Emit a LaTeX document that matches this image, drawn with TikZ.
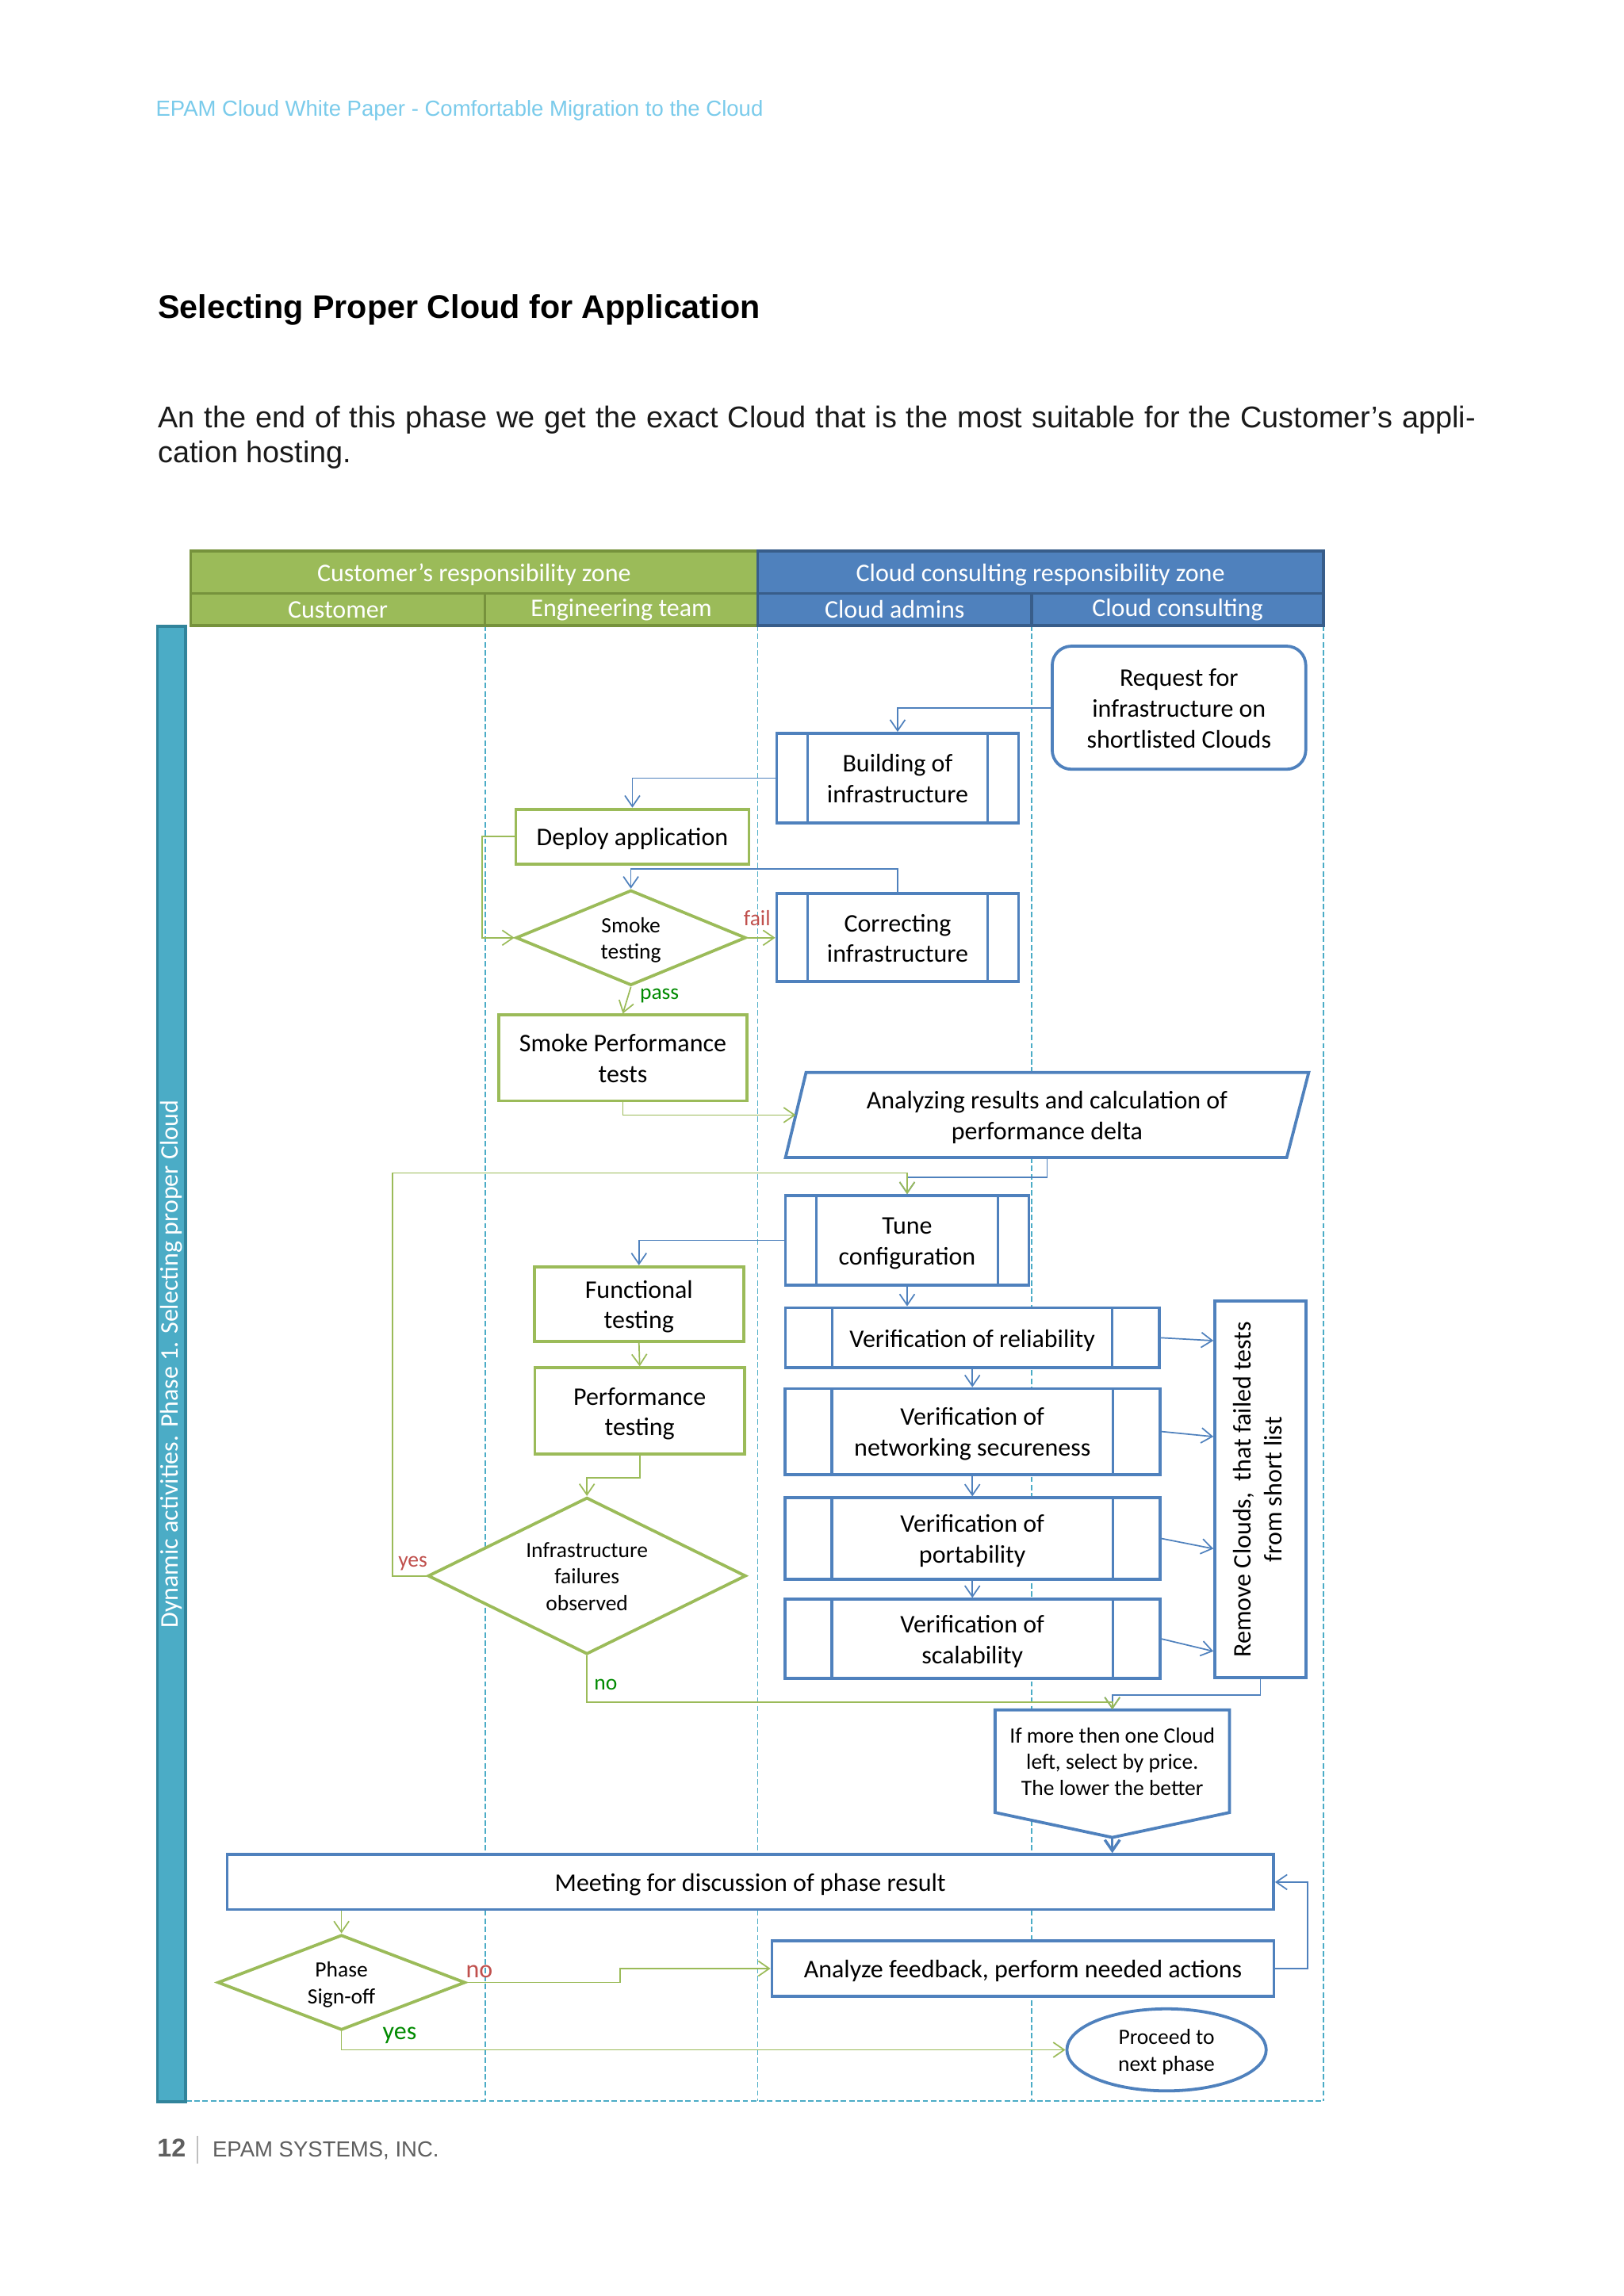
\documentclass[tikz,border=0pt]{standalone}
\usepackage{fontspec}
\setmainfont{Liberation Sans}
\newfontfamily\cfont{Carlito}
\usepackage{graphicx}
\usetikzlibrary{arrows.meta,shapes.geometric,calc}
\def\U{0.5372pt}
\newcommand{\ts}{\rule{0pt}{0.98em}}
\newcommand{\te}{\rule[-0.25em]{0pt}{0pt}}
\definecolor{cblue}{HTML}{4F81BD}
\definecolor{cblueD}{HTML}{385D8A}
\definecolor{cgreen}{HTML}{9BBB59}
\definecolor{cgreenD}{HTML}{76923C}
\definecolor{cteal}{HTML}{4BACC6}
\definecolor{ctealD}{HTML}{31849B}
\definecolor{cred}{HTML}{C0504D}
\definecolor{cgtxt}{HTML}{008A00}
\definecolor{chead}{HTML}{7ACBEB}
\definecolor{cfoot}{HTML}{5F5F5F}
\definecolor{csep}{HTML}{BFBFBF}
\definecolor{ctext}{HTML}{1A1A1A}
\tikzset{
  lbl/.style={font=\cfont\fontsize{9.3}{11.3}\selectfont, align=center, inner sep=0pt, text=black},
  sml/.style={font=\cfont\fontsize{8}{9.7}\selectfont, align=center, inner sep=0pt, text=black},
  bbox/.style={draw=cblue, line width=1.1pt, fill=white, lbl},
  gbox/.style={draw=cgreen, line width=1.1pt, fill=white, lbl},
  procbox/.style={bbox, path picture={\draw[cblue, line width=1pt]
      ([xshift=#1*\U]path picture bounding box.north west) -- ([xshift=#1*\U]path picture bounding box.south west)
      ([xshift=-#1*\U]path picture bounding box.north east) -- ([xshift=-#1*\U]path picture bounding box.south east);}},
  gdiam/.style={shape=diamond, draw=cgreen, line width=1.1pt, fill=white, sml},
  zoneg/.style={fill=cgreen, draw=cgreenD, line width=1pt, lbl, text=white},
  zoneb/.style={fill=cblue, draw=cblueD, line width=1pt, lbl, text=white},
  bl/.style={draw=cblue, line width=0.5pt, -{Straight Barb[length=4pt,width=5.5pt]}},
  gl/.style={draw=cgreen, line width=0.5pt, -{Straight Barb[length=4pt,width=5.5pt]}},
  lane/.style={draw=cteal, line width=0.5pt, dash pattern=on 2pt off 1pt},
  outl/.style={draw=cblue, line width=1.1pt, fill=white},
}
\begin{document}
\begin{tikzpicture}[x=0.5372pt, y=-0.5372pt]
\useasboundingbox (0,0) rectangle (1108,1567);
\fill[white] (0,0) rectangle (1108,1567);

% page texts
\node[anchor=base west, inner sep=0pt, font=\fontsize{8}{9.6}\selectfont, text=chead] (hdr) at (106,79.4)
  {EPAM Cloud White Paper - Comfortable Migration to the Cloud};
\node[anchor=base west, inner sep=0pt, font=\bfseries\fontsize{12}{14}\selectfont, text=black] (title) at (107.5,217.3)
  {Selecting Proper Cloud for Application};
\node[anchor=base west, inner sep=0pt, font=\fontsize{11}{13.3}\selectfont, text=ctext] (body1) at (107.5,291.7)
  {\makebox[483pt][s]{An the end of this phase we get the exact Cloud that is the most suitable for the Customer’s appli-}};
\node[anchor=base west, inner sep=0pt, font=\fontsize{11}{13.3}\selectfont, text=ctext] (body2) at (107.5,315.5)
  {cation hosting.};

% lanes
\foreach \lx in {331,517,704,903} \draw[lane] (\lx,427) -- (\lx,1434);
\draw[lane] (127,1434) -- (903,1434);

% header zones
\node[zoneg, minimum width=387*\U, minimum height=29*\U] (zc) at (323.5,390.5) {\ts Customer’s responsibility zone\te};
\node[zoneb, minimum width=386*\U, minimum height=29*\U] (zb) at (710,390.5) {\ts Cloud consulting responsibility zone\te};
\node[zoneg, minimum width=201*\U, minimum height=22*\U] (lc) at (230.5,416) {Customer};
\node[zoneg, minimum width=186*\U, minimum height=22*\U] (le) at (424,416) {Engineering team};
\node[zoneb, minimum width=187*\U, minimum height=22*\U] (la) at (610.5,416) {Cloud admins};
\node[zoneb, minimum width=199*\U, minimum height=22*\U] (lk) at (803.5,416) {Cloud consulting};

% side bar
\node[fill=cteal, draw=ctealD, line width=1pt, lbl, text=white, rotate=90,
      minimum width=1007*\U, minimum height=19*\U] (bar) at (117,931)
  {Dynamic activities. Phase 1. Selecting proper Cloud};

% nodes
\node[bbox, rounded corners=7pt, minimum width=173*\U, minimum height=84*\U] (req) at (804.5,483)
  {\ts Request for\\infrastructure on\\shortlisted Clouds\te};
\node[procbox=21, minimum width=165*\U, minimum height=61*\U] (build) at (612.5,531) {\ts Building of\\infrastructure\te};
\node[gbox, minimum width=159*\U, minimum height=37.5*\U] (deploy) at (431.5,571) {\ts Deploy application\te};
\node[gdiam, shape aspect=2.42, minimum width=157*\U, minimum height=65*\U] (smoke) at (430.5,640) {\ts Smoke\\testing\te};
\node[procbox=21, minimum width=165*\U, minimum height=60*\U] (correct) at (612.5,640) {\ts Correcting\\infrastructure\te};
\node[gbox, minimum width=169*\U, minimum height=58.5*\U] (spt) at (425,722) {\ts Smoke Performance\\tests\te};

% parallelogram (data)
\coordinate (anac) at (714.5,761);
\draw[outl] ($(anac)+(-164.5,-29)$) -- ($(anac)+(178.5,-29)$) -- ($(anac)+(163.5,29)$) -- ($(anac)+(-178.5,29)$) -- cycle;
\node[lbl, minimum width=357*\U, minimum height=58*\U] (ana) at (anac)
  {\ts Analyzing results and calculation of\\performance delta\te};
\coordinate (anaL) at ($(anac)+(-171.5,0)$);

\node[procbox=21, minimum width=166*\U, minimum height=61*\U] (tune) at (619,846.5) {\ts Tune\\configuration\te};
\node[gbox, minimum width=143*\U, minimum height=51*\U] (func) at (436,890) {\ts Functional\\testing\te};
\node[gbox, minimum width=143*\U, minimum height=59*\U] (perf) at (436.5,963) {\ts Performance\\testing\te};
\node[gdiam, shape aspect=2.03, minimum width=217*\U, minimum height=107*\U] (infra) at (400.5,1075.5)
  {\ts Infrastructure\\failures\\observed\te};

\node[procbox=32, minimum width=255*\U, minimum height=41*\U] (rel) at (663.5,913) {\ts Verification of reliability\te};
\node[procbox=32, minimum width=256*\U, minimum height=58.5*\U] (net) at (663.5,977) {\ts Verification of\\networking secureness\te};
\node[procbox=32, minimum width=256*\U, minimum height=55.5*\U] (port) at (663.5,1050) {\ts Verification of\\portability\te};
\node[procbox=32, minimum width=256*\U, minimum height=54*\U] (scal) at (663.5,1118.5) {\ts Verification of\\scalability\te};

\node[bbox, minimum width=62*\U, minimum height=257*\U] (remove) at (860,1016.5)
  {\rotatebox{90}{\begin{tabular}{@{}c@{}}Remove Clouds,\ \ that failed tests\\from short list\end{tabular}}};

% off-page connector
\coordinate (pentc) at (759,1202);
\draw[outl] ($(pentc)+(-80,-35)$) -- ($(pentc)+(80,-35)$) -- ($(pentc)+(80,35)$) -- ($(pentc)+(0,52)$) -- ($(pentc)+(-80,35)$) -- cycle;
\node[sml, minimum width=160*\U, minimum height=70*\U] (pent) at (pentc)
  {\ts If more then one Cloud\\left, select by price.\\The lower the better\te};
\coordinate (penttip) at ($(pent.south)+(0,17)$);

\node[bbox, minimum width=714*\U, minimum height=37.5*\U] (meet) at (512,1284.5) {\ts Meeting for discussion of phase result\te};
\node[gdiam, shape aspect=2.6, minimum width=169*\U, minimum height=65*\U] (sign) at (233,1353) {\ts Phase\\Sign-off\te};
\node[bbox, minimum width=342.5*\U, minimum height=37.5*\U] (anly) at (698,1343.5) {\ts Analyze feedback, perform needed actions\te};
\node[shape=ellipse, draw=cblue, line width=1.1pt, fill=white, sml, minimum width=136*\U, minimum height=56*\U] (proceed)
  at (796,1399) {\ts Proceed to\\next phase\te};

% connectors
\draw[bl] (req.west) -| (build.north);
\draw[bl] (build.west) -| (deploy.north);
\draw[gl] (deploy.west) -- ++(-22,0) |- (smoke.west);
\draw[gl] (smoke.east) -- (correct.west);
\draw[bl] (correct.north) -- ++(0,-16) -| (smoke.north);
\draw[gl] (smoke.south) -- (spt.north);
\draw[gl] (spt.south) |- (anaL);
\draw[bl] (ana.south) -- ++(0,13) -| (tune.north);
\draw[gl] (infra.west) -- ++(-23,0) |- ([yshift=14.5*\U]tune.north) -- (tune.north);
\draw[bl] (tune.west) -| (func.north);
\draw[bl] (tune.south) -- (tune.south |- rel.north);
\draw[gl] (func.south) -- (perf.north);
\draw[gl] (perf.south) -- ++(0,15) -| (infra.north);
\draw[bl] (rel.south) -- (net.north);
\draw[bl] (net.south) -- (port.north);
\draw[bl] (port.south) -- (scal.north);
\draw[bl] (rel.east) -- ($(remove.north west)+(0,28)$);
\draw[bl] (net.east) -- ($(remove.north west)+(0,93.5)$);
\draw[bl] (port.east) -- ($(remove.north west)+(0,170)$);
\draw[bl] (scal.east) -- ($(remove.north west)+(0,240)$);
\draw[bl] (remove.south) -- ++(0,11) -| (pent.north);
\draw[gl] (infra.south) -- ++(0,31.5) -| (pent.north);
\draw[bl, line width=1pt] (penttip) -- (penttip |- meet.north);
\draw[gl] (meet.south -| sign.north) -- (sign.north);
\draw[gl] (sign.east) -- ++(104.5,0) |- (anly.west);
\draw[bl] (anly.east) -- ++(22,0) |- (meet.east);
\draw[gl] (sign.south) |- (proceed.west);

% connector labels
\node[sml, text=cred] (lfail) at (516.6,626.7) {fail};
\node[sml, text=cgtxt] (lpass) at (450,679.5) {pass};
\node[sml, text=cred] (lyes1) at (281.7,1067) {yes};
\node[sml, text=cgtxt] (lno1) at (413.3,1150) {no};
\node[lbl, text=cred] (lno2) at (327,1345.5) {no};
\node[lbl, text=cgtxt] (lyes2) at (272.7,1389) {yes};

% footer
\node[anchor=base west, inner sep=0pt, font=\bfseries\fontsize{9.4}{11}\selectfont, text=cfoot] (pgnum) at (107,1471.8) {12};
\draw[csep, line width=0.6pt] (134.5,1457.6) -- (134.5,1476.7);
\node[anchor=base west, inner sep=0pt, font=\fontsize{8}{9.6}\selectfont, text=cfoot] (foot) at (144.7,1471.8) {EPAM SYSTEMS, INC.};
\end{tikzpicture}
\end{document}
